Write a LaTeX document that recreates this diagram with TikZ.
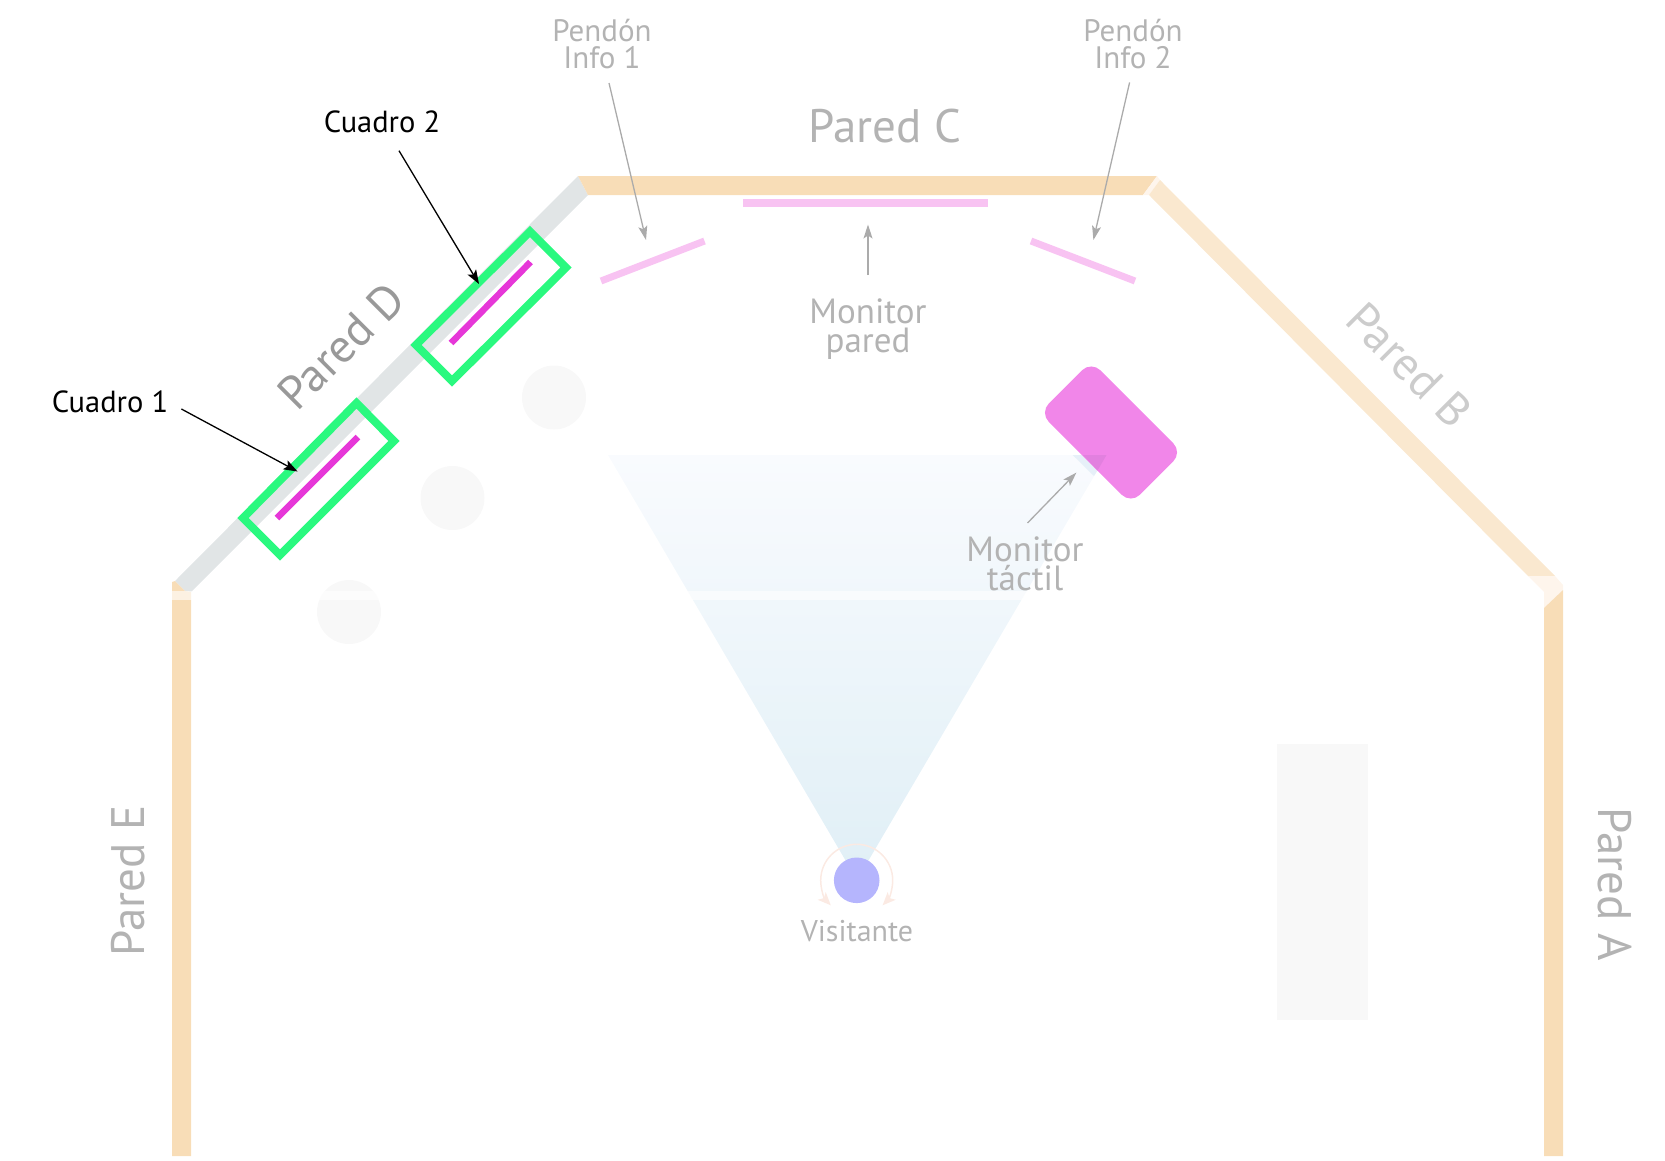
\documentclass[tikz,border=0pt]{standalone}
\usepackage{fontspec}
\setmainfont{PT Sans}
\usetikzlibrary{arrows.meta}
\definecolor{wallor}{HTML}{F8DDB7}
\definecolor{wallb}{HTML}{FAE8CF}
\definecolor{walld}{HTML}{E1E5E6}
\definecolor{cornerl}{HTML}{FEF5EC}
\definecolor{frameg}{HTML}{2AF97F}
\definecolor{barm}{HTML}{E637D8}
\definecolor{barl}{HTML}{F8C3F2}
\definecolor{montact}{HTML}{F186E9}
\definecolor{soft}{HTML}{F8F8F8}
\definecolor{visit}{HTML}{B5B5FD}
\definecolor{orbit}{HTML}{FBEAE3}
\definecolor{lbl}{HTML}{B3B3B3}
\definecolor{arrg}{HTML}{ABABAB}
\definecolor{conetop}{HTML}{F9FBFE}
\definecolor{conemid}{HTML}{E8F5FC}
\definecolor{conebot}{HTML}{E0EFF6}
\definecolor{conedark}{HTML}{E6F0F8}
\definecolor{monover}{HTML}{E280DF}
\tikzset{
  lab/.style={text=lbl,font=\fontsize{31}{26.5}\selectfont,align=center,inner sep=0pt},
  labm/.style={text=lbl,font=\fontsize{35}{29.5}\selectfont,align=center,inner sep=0pt},
  labv/.style={text=lbl,font=\fontsize{30}{30}\selectfont,inner sep=0pt},
  wallname/.style={font=\fontsize{47}{47}\selectfont,inner sep=0pt},
  cuadro/.style={text=black,font=\fontsize{30.5}{30.5}\selectfont,inner sep=0pt},
  framebox/.style={draw=frameg,line width=8pt,miter limit=10},
  picbar/.style={draw=barm,line width=6.5pt},
  banner/.style={draw=barl,line width=7pt},
  arrgray/.style={draw=arrg,line width=1.3pt,-{Stealth[length=14pt,width=9pt,inset=3pt]}},
  arrblack/.style={draw=black,line width=1.3pt,-{Stealth[length=14pt,width=10pt,inset=3pt]}},
  orbitarc/.style={draw=orbit,line width=1.5pt,-{Stealth[length=13pt,width=11pt,inset=3pt]}}
}
\begin{document}
\begin{tikzpicture}[x=1pt,y=-1pt]
\useasboundingbox (0,0) rectangle (1665,1160);
% soft floor items
\fill[soft] (554,397.5) circle (32);
\fill[soft] (452.5,498) circle (32);
\fill[soft] (349,612) circle (32);
\fill[soft] (1276.5,744) rectangle (1368,1020);
% walls
\fill[walld] (175,581) -- (578,176) -- (588,195) -- (191,592) -- (185,591) -- cycle;
\fill[wallor] (172,582) -- (175,581) -- (185,591) -- (191,592) -- (191,1156) -- (172,1156) -- cycle;
\fill[wallor] (578,176) -- (1157,176) -- (1143,195) -- (588,195) -- cycle;
\fill[cornerl] (1157,176) -- (1160,180) -- (1149,195) -- (1143,195) -- cycle;
\fill[wallb] (1160,180) -- (1555,576) -- (1528,576) -- (1149,195) -- cycle;
\fill[cornerl] (1528,576) -- (1555,576) -- (1563,585) -- (1563,590) -- (1544,608) -- (1544,592) -- cycle;
\fill[wallor] (1563,590) -- (1563,1156) -- (1544,1156) -- (1544,608) -- cycle;
% banners and wall monitor
\fill[barl] (743,199) rectangle (988,207);
\draw[banner] (601,281) -- (704.5,241);
\draw[banner] (1031,241) -- (1135,281);
% view cone
\shade[top color=conetop,middle color=conemid,bottom color=conebot] (608,455) -- (1106.5,455) -- (857,880) -- cycle;
\fill[conedark] (1072.7,455) -- (1083,455) -- (1097.5,470.5) -- (1094,476) -- cycle;
% touch monitor
\begin{scope}[shift={(1111,432.5)},rotate=-45]
\fill[montact,rounded corners=13pt] (-64.5,-36.5) rectangle (64.5,36.5);
\end{scope}
\fill[monover] (1083,455) -- (1106.5,455) -- (1097.5,470.5) -- cycle;
\fill[white,opacity=0.6] (172,591) rectangle (1040,600);
% paintings
\draw[framebox] (530,231.5) -- (566,267.5) -- (452,381) -- (416,345) -- cycle;
\draw[framebox] (356.5,403) -- (394,441) -- (280,555) -- (243,518) -- cycle;
\draw[picbar] (530.5,262) -- (451,343);
\draw[picbar] (358,437) -- (277,518);
% visitor
\coordinate (vc) at (856.7,880.3);
\draw[orbitarc] (856.7,844.3) arc[start angle=270,end angle=136,radius=36];
\draw[orbitarc] (856.7,844.3) arc[start angle=270,end angle=404,radius=36];
\node[circle,fill=visit,minimum size=45.6pt,inner sep=0pt] (visitor) at (vc) {};
% labels
\node[wallname,text=lbl] (pc) at (885,126) {Pared C};
\node[wallname,text=black!40,rotate=45] (pd) at (341,346) {Pared D};
\node[wallname,text=black!20,rotate=-45] (pb) at (1409,365) {Pared B};
\node[wallname,text=lbl,rotate=90] (pe) at (128.5,881) {Pared E};
\node[wallname,text=lbl,rotate=-90] (pa) at (1615,884.5) {Pared A};
\node[lab] (p1) at (602,44) {Pendón\\Info 1};
\node[lab] (p2) at (1133,44) {Pendón\\Info 2};
\node[labm] (mp) at (868,329) {Monitor\\pared};
\node[labm] (mt) at (1025,564) {Monitor\\táctil};
\node[labv] (vis) at (857,931) {Visitante};
\node[cuadro] (c2) at (382,122) {Cuadro 2};
\node[cuadro] (c1) at (110,402) {Cuadro 1};
% connectors
\coordinate (p1s) at (609,83);   \coordinate (p1e) at (646,240);
\coordinate (p2s) at (1129.6,82.4); \coordinate (p2e) at (1093.4,240);
\coordinate (mps) at (868,275);  \coordinate (mpe) at (868,224.5);
\coordinate (mts) at (1027.5,523); \coordinate (mte) at (1076.4,472.6);
\coordinate (c2s) at (399,150.7); \coordinate (c2e) at (479,284);
\coordinate (c1s) at (181.4,409); \coordinate (c1e) at (297.6,471.5);
\draw[arrgray] (p1s) -- (p1e);
\draw[arrgray] (p2s) -- (p2e);
\draw[arrgray] (mps) -- (mpe);
\draw[arrgray] (mts) -- (mte);
\draw[arrblack] (c2s) -- (c2e);
\draw[arrblack] (c1s) -- (c1e);
\end{tikzpicture}
\end{document}
